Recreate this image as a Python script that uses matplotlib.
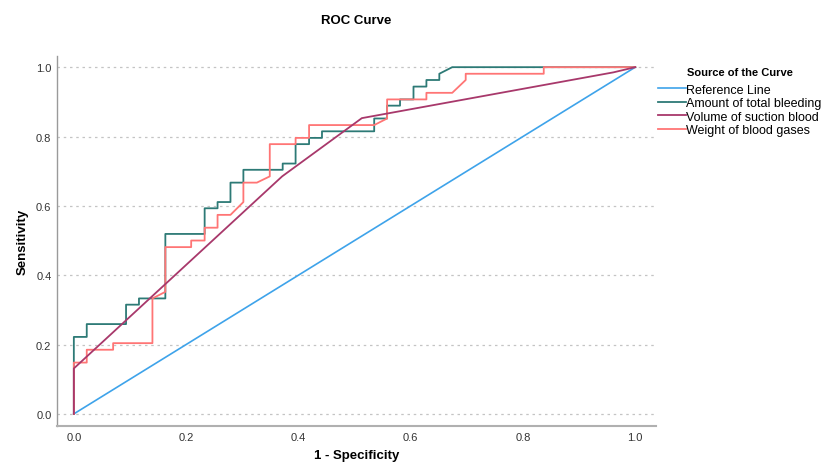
import matplotlib
matplotlib.use("Agg")
import matplotlib.pyplot as plt
from matplotlib.ticker import FixedLocator

plt.rcParams['font.family'] = ['Liberation Sans Narrow', 'Liberation Sans', 'DejaVu Sans']

# Reference line
ref_x = [0.0, 1.0]
ref_y = [0.0, 1.0]

# Amount of total bleeding (step ROC)
bleed_x = [0.0, 0.0, 0.023, 0.023, 0.093, 0.093, 0.116, 0.116, 0.163, 0.163, 0.233, 0.233,
           0.256, 0.256, 0.279, 0.279, 0.302, 0.302, 0.372, 0.372, 0.395, 0.395, 0.419, 0.419,
           0.442, 0.442, 0.535, 0.535, 0.558, 0.558, 0.581, 0.581, 0.605, 0.605, 0.628, 0.628,
           0.651, 0.651, 0.674, 1.0]
bleed_y = [0.0, 0.222, 0.222, 0.259, 0.259, 0.315, 0.315, 0.333, 0.333, 0.519, 0.519, 0.593,
           0.593, 0.611, 0.611, 0.667, 0.667, 0.704, 0.704, 0.722, 0.722, 0.778, 0.778, 0.796,
           0.796, 0.815, 0.815, 0.852, 0.852, 0.889, 0.889, 0.907, 0.907, 0.944, 0.944, 0.963,
           0.963, 0.981, 1.0, 1.0]

# Volume of suction blood
suction_x = [0.0, 0.0, 0.371, 0.513, 0.961, 1.0]
suction_y = [0.0, 0.131, 0.685, 0.853, 0.985, 1.0]

# Weight of blood gases
gas_x = [0.0, 0.0, 0.023, 0.023, 0.070, 0.070, 0.140, 0.140, 0.163, 0.163, 0.209, 0.209,
         0.233, 0.233, 0.256, 0.256, 0.279, 0.302, 0.302, 0.326, 0.349, 0.349, 0.395, 0.395,
         0.419, 0.419, 0.535, 0.558, 0.558, 0.628, 0.628, 0.674, 0.698, 0.698, 0.837, 0.837, 1.0]
gas_y = [0.0, 0.148, 0.148, 0.185, 0.185, 0.204, 0.204, 0.333, 0.352, 0.481, 0.481, 0.5,
         0.5, 0.537, 0.537, 0.574, 0.574, 0.611, 0.667, 0.667, 0.685, 0.778, 0.778, 0.796,
         0.796, 0.833, 0.833, 0.852, 0.907, 0.907, 0.926, 0.926, 0.963, 0.981, 0.981, 1.0, 1.0]

ticks = [0.0, 0.2, 0.4, 0.6, 0.8, 1.0]
tick_labels = ["0.0", "0.2", "0.4", "0.6", "0.8", "1.0"]

fig = plt.figure(figsize=(8.32, 4.64), dpi=100)
ax = fig.add_axes([0.0685, 0.0797, 0.72, 0.7973])

ax.plot(ref_x, ref_y, color="#3ea3ea", lw=1.2, label="Reference Line", zorder=3)
ax.plot(bleed_x, bleed_y, color="#2d7a76", lw=1.3, label="Amount of total bleeding", zorder=4)
ax.plot(suction_x, suction_y, color="#a8386b", lw=1.3, label="Volume of suction blood", zorder=5)
ax.plot(gas_x, gas_y, color="#ff7575", lw=1.3, label="Weight of blood gases", zorder=4)

ax.set_xlim(-0.030, 1.037)
ax.set_ylim(-0.035, 1.032)
ax.xaxis.set_major_locator(FixedLocator(ticks))
ax.yaxis.set_major_locator(FixedLocator(ticks))
ax.set_xticklabels(tick_labels)
ax.set_yticklabels(tick_labels)
ax.tick_params(axis='both', length=0, labelsize=8, labelcolor="#333333", pad=4)
ax.yaxis.grid(True, linestyle=(0, (2, 3)), color="#c4c4c4", lw=0.9)
ax.set_axisbelow(True)

for s in ["top", "right"]:
    ax.spines[s].set_visible(False)
ax.spines["left"].set_color("#9a9a9a")
ax.spines["bottom"].set_color("#b0b0b0")
ax.spines["bottom"].set_linewidth(1.5)
ax.spines["left"].set_linewidth(1.0)

ax.set_title("ROC Curve", fontsize=9.5, fontweight="bold", pad=24)
ax.set_xlabel("1 - Specificity", fontsize=9.5, fontweight="bold", labelpad=5)
ax.set_ylabel("Sensitivity", fontsize=9.5, fontweight="bold", labelpad=5)

leg = ax.legend(loc="upper left", bbox_to_anchor=(0.995, 0.985), frameon=False,
                title="Source of the Curve", fontsize=9, handlelength=2.2,
                handletextpad=0.05, labelspacing=0.12, borderaxespad=0)
leg.get_title().set_fontweight("bold")
leg.get_title().set_fontsize(8)
leg._legend_box.align = "center"
leg._legend_box.sep = 5

fig.savefig("out.png", dpi=100)
